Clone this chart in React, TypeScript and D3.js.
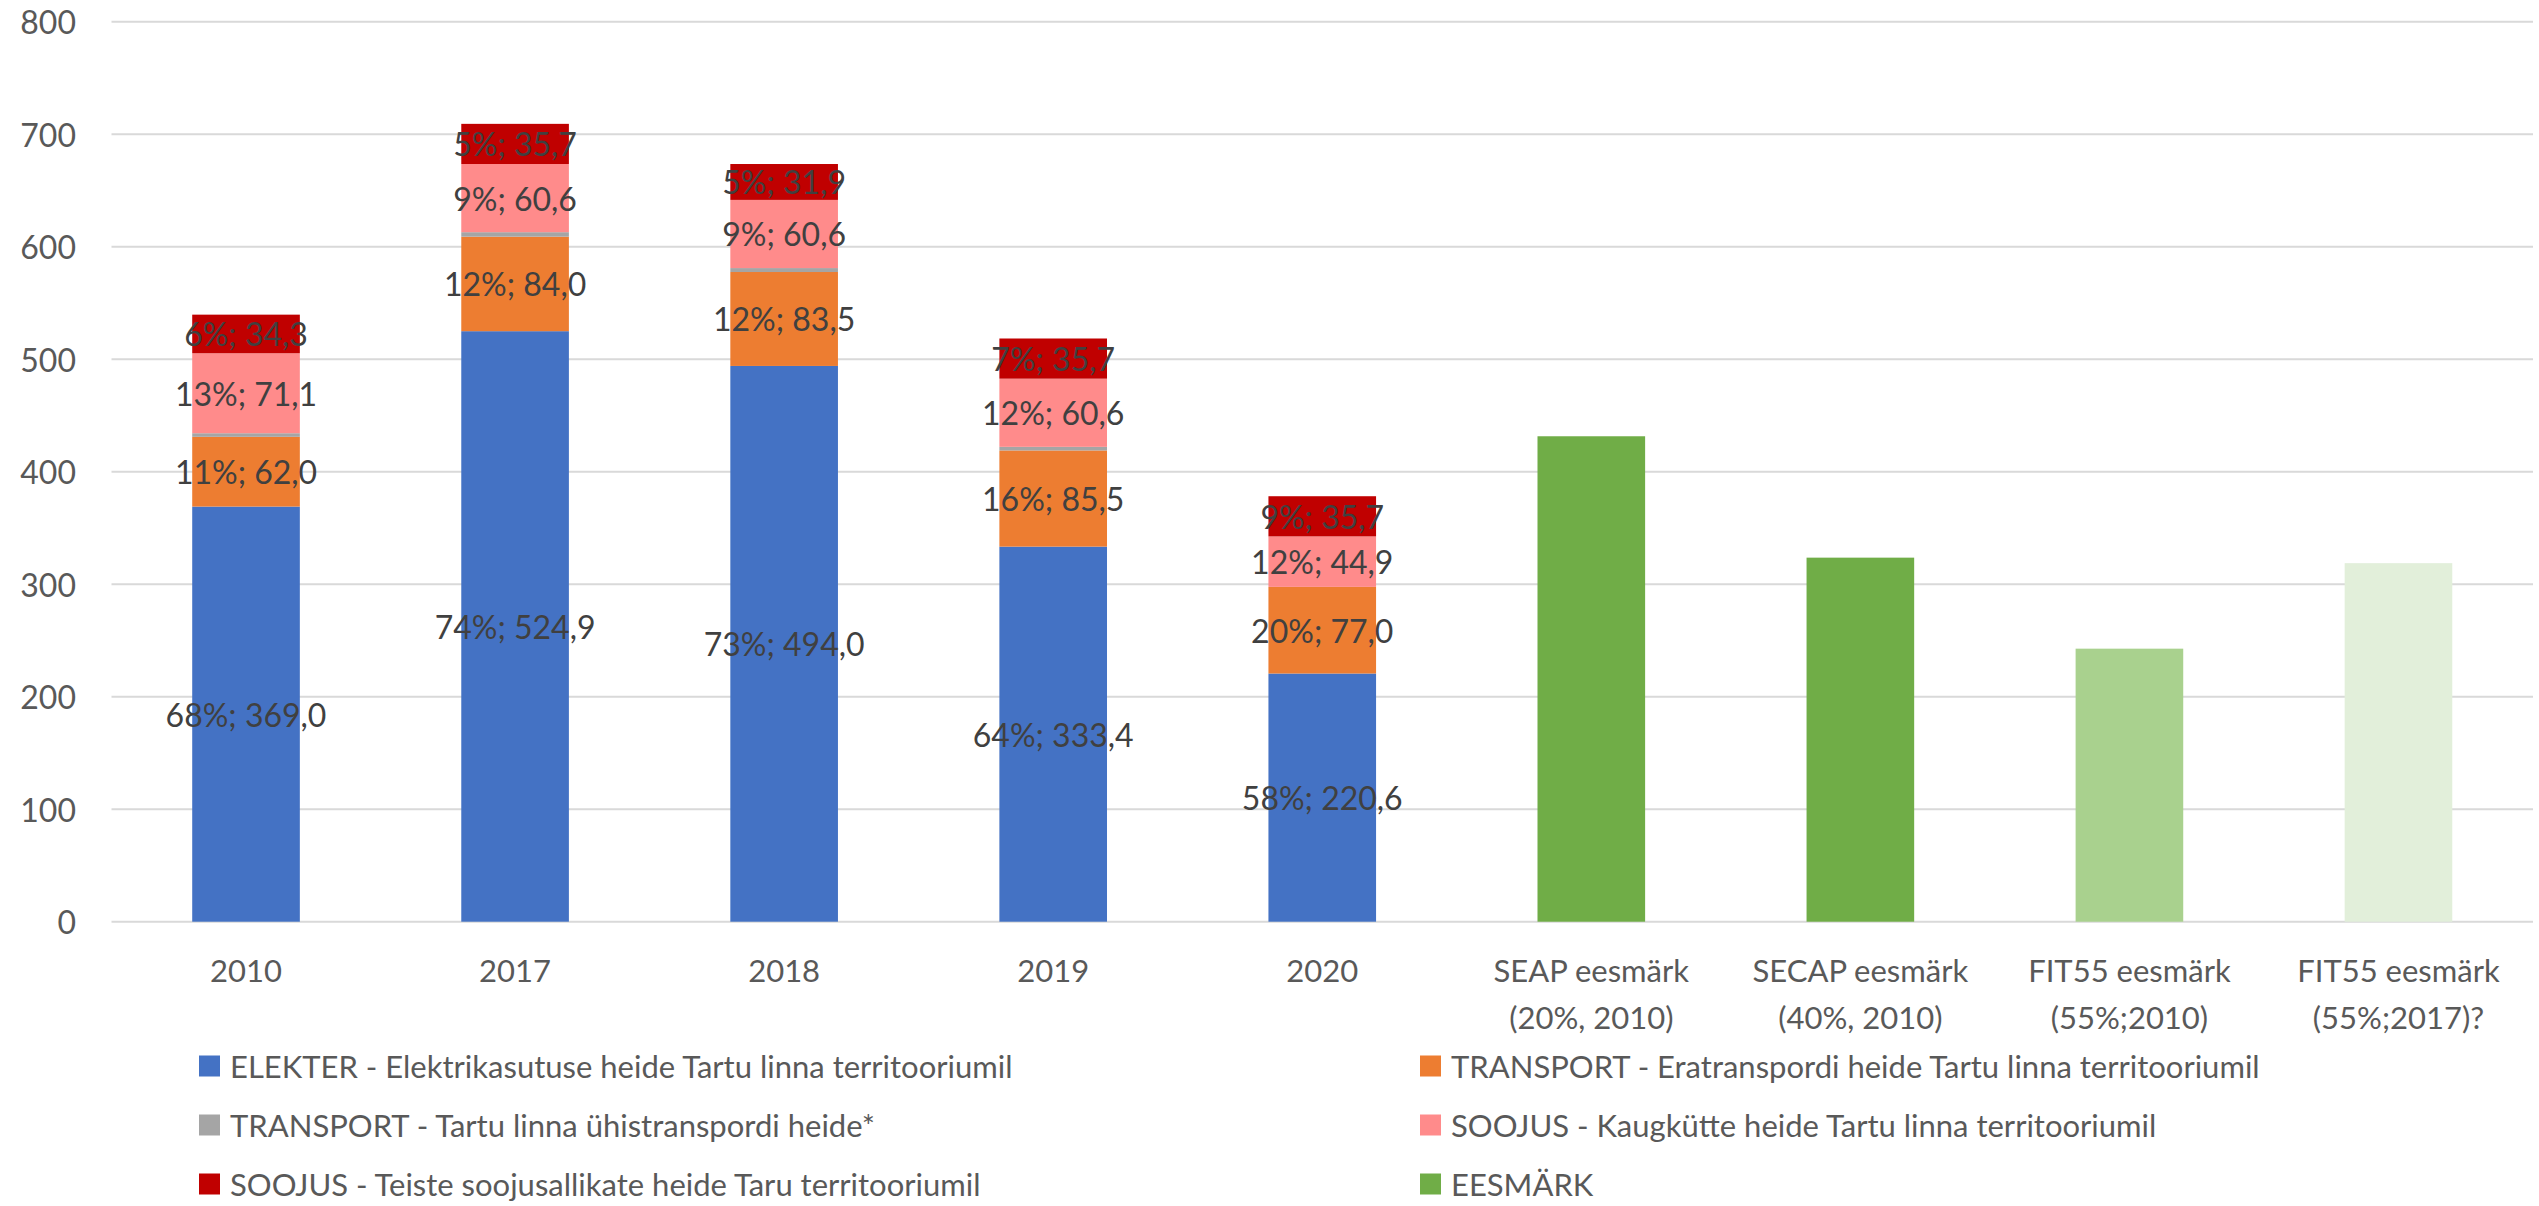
import React, { useEffect, useRef } from "react";
import * as d3 from "d3";

const categories = [
  "2010",
  "2017",
  "2018",
  "2019",
  "2020",
  "SEAP eesmärk|(20%, 2010)",
  "SECAP eesmärk|(40%, 2010)",
  "FIT55 eesmärk|(55%;2010)",
  "FIT55 eesmärk|(55%;2017)?",
];

// stacked series (first five categories)
const elekter = [369.0, 524.9, 494.0, 333.4, 220.6];
const eratransport = [62.0, 84.0, 83.5, 85.5, 77.0];
const yhistransport = [3.2, 4.0, 3.5, 3.2, 0];
const kaugkute = [71.1, 60.6, 60.6, 60.6, 44.9];
const teised = [34.3, 35.7, 31.9, 35.7, 35.7];

// percentage labels as shown
const elekterPct = [68, 74, 73, 64, 58];
const eratransportPct = [11, 12, 12, 16, 20];
const kaugkutePct = [13, 9, 9, 12, 12];
const teisedPct = [6, 5, 5, 7, 9];

// target bars (last four categories)
const eesmark = [431.5, 323.6, 242.7, 318.7];
const eesmarkColors = ["#70AD47", "#70AD47", "#A9D18E", "#E2EFDA"];

const yTicks = [0, 100, 200, 300, 400, 500, 600, 700, 800];

const seriesInfo = [
  { name: "ELEKTER - Elektrikasutuse heide Tartu linna territooriumil", values: elekter, pct: elekterPct, color: "#4472C4" },
  { name: "TRANSPORT - Eratranspordi heide Tartu linna territooriumil", values: eratransport, pct: eratransportPct, color: "#ED7D31" },
  { name: "TRANSPORT - Tartu linna ühistranspordi heide*", values: yhistransport, pct: null, color: "#A5A5A5" },
  { name: "SOOJUS - Kaugkütte heide Tartu linna territooriumil", values: kaugkute, pct: kaugkutePct, color: "#FF8B8B" },
  { name: "SOOJUS - Teiste soojusallikate heide Taru territooriumil", values: teised, pct: teisedPct, color: "#C00000" },
];

const legendOrder = [
  { name: seriesInfo[0].name, color: seriesInfo[0].color },
  { name: seriesInfo[1].name, color: seriesInfo[1].color },
  { name: seriesInfo[2].name, color: seriesInfo[2].color },
  { name: seriesInfo[3].name, color: seriesInfo[3].color },
  { name: seriesInfo[4].name, color: seriesInfo[4].color },
  { name: "EESMÄRK", color: "#70AD47" },
];

const FONT = "Lato, 'Open Sans', sans-serif";

export default function App() {
  const svgRef = useRef<SVGSVGElement>(null);
  const width = 2539;
  const height = 1206;

  useEffect(() => {
    const svg = d3.select(svgRef.current);
    svg.selectAll("*").remove();

    const left = 111.5;
    const right = 2533;
    const top = 21.7;
    const bottom = 921.7;

    const x = d3.scaleBand<string>().domain(categories).range([left, right]).padding(0);
    const y = d3.scaleLinear().domain([0, 800]).range([bottom, top]);
    const barW = x.bandwidth() * 0.4;

    // gridlines
    svg
      .append("g")
      .selectAll("line")
      .data(yTicks)
      .enter()
      .append("line")
      .attr("x1", left)
      .attr("x2", right)
      .attr("y1", (d) => y(d))
      .attr("y2", (d) => y(d))
      .attr("stroke", "#D9D9D9")
      .attr("stroke-width", 2);

    // y tick labels
    svg
      .append("g")
      .selectAll("text")
      .data(yTicks)
      .enter()
      .append("text")
      .attr("x", 76)
      .attr("y", (d) => y(d))
      .attr("text-anchor", "end")
      .attr("dominant-baseline", "central")
      .attr("font-family", FONT)
      .attr("font-size", 32)
      .attr("fill", "#595959")
      .text((d) => d);

    // stacked bars
    const stackCats = categories.slice(0, 5);
    const rows = stackCats.map((c, i) => {
      const r: any = { cat: c };
      seriesInfo.forEach((s, k) => (r["s" + k] = s.values[i]));
      return r;
    });
    const stacked = d3.stack<any>().keys(seriesInfo.map((_, k) => "s" + k))(rows);

    stacked.forEach((layer, k) => {
      const s = seriesInfo[k];
      svg
        .append("g")
        .selectAll("rect")
        .data(layer)
        .enter()
        .append("rect")
        .attr("x", (d) => x(d.data.cat)! + (x.bandwidth() - barW) / 2)
        .attr("y", (d) => y(d[1]))
        .attr("width", barW)
        .attr("height", (d) => Math.max(0, y(d[0]) - y(d[1])))
        .attr("fill", s.color);
    });

    // data labels
    stacked.forEach((layer, k) => {
      const s = seriesInfo[k];
      if (!s.pct) return;
      svg
        .append("g")
        .selectAll("text")
        .data(layer)
        .enter()
        .append("text")
        .attr("x", (d) => x(d.data.cat)! + x.bandwidth() / 2)
        .attr("y", (d) => y((d[0] + d[1]) / 2))
        .attr("text-anchor", "middle")
        .attr("dominant-baseline", "central")
        .attr("font-family", FONT)
        .attr("font-size", 32)
        .attr("fill", "#404040")
        .text((d, i) => `${s.pct![i]}%; ${d3.format(".1f")(s.values[i]).replace(".", ",")}`);
    });

    // target bars
    const targetCats = categories.slice(5);
    svg
      .append("g")
      .selectAll("rect")
      .data(eesmark)
      .enter()
      .append("rect")
      .attr("x", (_, i) => x(targetCats[i])! + (x.bandwidth() - barW) / 2)
      .attr("y", (d) => y(d))
      .attr("width", barW)
      .attr("height", (d) => y(0) - y(d))
      .attr("fill", (_, i) => eesmarkColors[i]);

    // x labels
    const xl = svg.append("g");
    categories.forEach((c) => {
      const lines = c.split("|");
      lines.forEach((ln, j) => {
        xl.append("text")
          .attr("x", x(c)! + x.bandwidth() / 2)
          .attr("y", 970 + j * 47)
          .attr("text-anchor", "middle")
          .attr("dominant-baseline", "central")
          .attr("font-family", FONT)
          .attr("font-size", 31)
          .attr("fill", "#595959")
          .text(ln);
      });
    });

    // legend
    const lg = svg.append("g");
    legendOrder.forEach((item, i) => {
      const col = i % 2;
      const row = Math.floor(i / 2);
      const mx = col === 0 ? 199 : 1420;
      const cy = 1066 + row * 59;
      lg.append("rect")
        .attr("x", mx)
        .attr("y", cy - 10.5)
        .attr("width", 21)
        .attr("height", 21)
        .attr("fill", item.color);
      lg.append("text")
        .attr("x", mx + 31)
        .attr("y", cy)
        .attr("dominant-baseline", "central")
        .attr("font-family", FONT)
        .attr("font-size", 31)
        .attr("fill", "#595959")
        .text(item.name);
    });
  }, []);

  return (
    <div style={{ position: "absolute", left: 0, top: 0 }}>
      <svg ref={svgRef} width={width} height={height} style={{ display: "block", background: "#fff" }} />
    </div>
  );
}
